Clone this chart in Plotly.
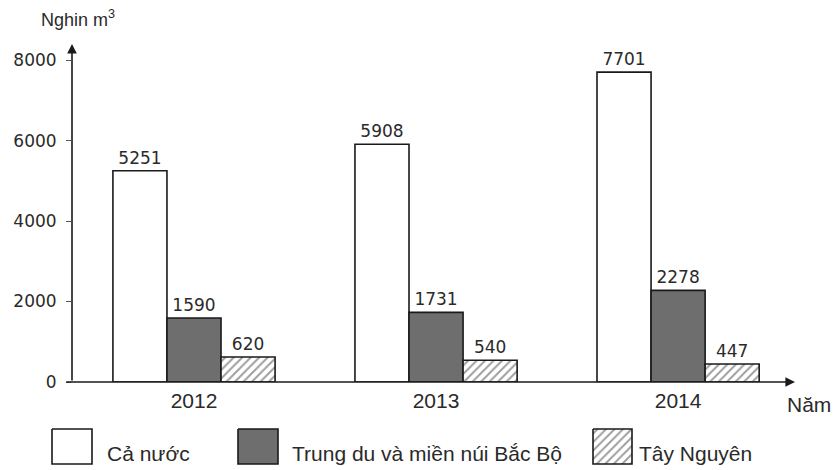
import plotly.graph_objects as go

years = ["2012", "2013", "2014"]
ca_nuoc = [5251, 5908, 7701]
trung_du = [1590, 1731, 2278]
tay_nguyen = [620, 540, 447]
series_names = ["Cả nước", "Trung du và miền núi Bắc Bộ", "Tây Nguyên"]
y_ticks = [0, 2000, 4000, 6000, 8000]
y_label = "Nghin m<sup>3</sup>"
x_label = "Năm"

W, H = 834, 470          # target picture size (layout coordinates below use it)
PAGE_H = 480             # page height that ends up shown as 470 px
x_pos = list(range(len(years)))
x_range = [-0.504, 2.483]
y_range = [0, 8400]

INK = "#1a1a1a"
GRAY = "#6e6e6e"
TXT = "#2a2a2a"
hatch = dict(shape="/", fgcolor="#3a3a3a", bgcolor="white", size=6, solidity=0.32)

fig = go.Figure()
common = dict(textposition="outside", cliponaxis=False, constraintext="none",
              textfont=dict(family="DejaVu Sans", size=17, color=TXT),
              showlegend=False, hoverinfo="skip")
fig.add_bar(x=x_pos, y=ca_nuoc, name=series_names[0], text=ca_nuoc,
            marker=dict(color="white", line=dict(color=INK, width=1.6)), **common)
fig.add_bar(x=x_pos, y=trung_du, name=series_names[1], text=trung_du,
            marker=dict(color=GRAY, line=dict(color=INK, width=1.6)), **common)
fig.add_bar(x=x_pos, y=tay_nguyen, name=series_names[2], text=tay_nguyen,
            marker=dict(color="white", line=dict(color=INK, width=1.6), pattern=hatch), **common)

# custom legend drawn on a pixel overlay axis
legend_boxes = [(52, 92), (238, 278), (593, 632)]
legend_text_x = [105, 290, 637]
for i, (x0, x1) in enumerate(legend_boxes):
    kw = dict(fillcolor="white")
    if i == 1:
        kw = dict(fillcolor=GRAY)
    sc = go.Scatter(x=[x0, x1, x1, x0, x0], y=[429, 429, 464, 464, 429],
                    mode="lines", fill="toself", line=dict(color=INK, width=1.6),
                    xaxis="x2", yaxis="y2", showlegend=False, hoverinfo="skip", **kw)
    if i == 2:
        sc.fillpattern = hatch
    fig.add_trace(sc)
    fig.add_annotation(x=legend_text_x[i], y=453, xref="x2", yref="y2", text=series_names[i],
                       showarrow=False, xanchor="left", yanchor="middle",
                       font=dict(family="Liberation Sans", size=21, color=TXT))

# axis arrows
fig.add_annotation(x=x_range[0], y=y_range[1], ax=x_range[0], ay=0, xref="x", yref="y",
                   axref="x", ayref="y", text="", showarrow=True, arrowhead=2,
                   arrowsize=1.2, arrowwidth=1.6, arrowcolor=INK)
fig.add_annotation(x=x_range[1], y=0, ax=x_range[0] - 0.03, ay=0, xref="x", yref="y",
                   axref="x", ayref="y", text="", showarrow=True, arrowhead=2,
                   arrowsize=1.2, arrowwidth=1.6, arrowcolor=INK)

fig.add_annotation(x=78, y=18, xref="x2", yref="y2", text=y_label, showarrow=False,
                   font=dict(family="Liberation Sans", size=18, color=TXT))
fig.add_annotation(x=833, y=404, xref="x2", yref="y2", text=x_label, showarrow=False,
                   xanchor="right", font=dict(family="Liberation Sans", size=21, color=TXT))

fig.update_layout(
    width=W, height=PAGE_H, autosize=False, margin=dict(l=0, r=0, t=0, b=0),
    paper_bgcolor="white", plot_bgcolor="rgba(0,0,0,0)",
    barmode="group", bargap=0.33, bargroupgap=0,
    xaxis=dict(domain=[72 / W, 795 / W], range=x_range, tickvals=x_pos, ticktext=years,
               showgrid=False, zeroline=False, showline=False, ticks="",
               ticklabelstandoff=4,
               tickfont=dict(family="Liberation Sans", size=21, color=TXT)),
    yaxis=dict(domain=[(H - 382) / H, (H - 44) / H], range=y_range, tickvals=y_ticks,
               showgrid=False, zeroline=False, showline=False, ticks="outside",
               ticklen=5, tickwidth=1.2, tickcolor="#555", ticklabelstandoff=6,
               tickfont=dict(family="DejaVu Sans", size=17, color=TXT)),
    xaxis2=dict(domain=[0, 1], range=[0, W], visible=False, anchor="y2", fixedrange=True),
    yaxis2=dict(domain=[0, 1], range=[H, 0], visible=False, anchor="x2", fixedrange=True),
)

fig.write_html("out.html", config={"displayModeBar": False, "responsive": False},
               post_script="document.body.style.margin='0px';document.body.style.overflow='hidden';")
